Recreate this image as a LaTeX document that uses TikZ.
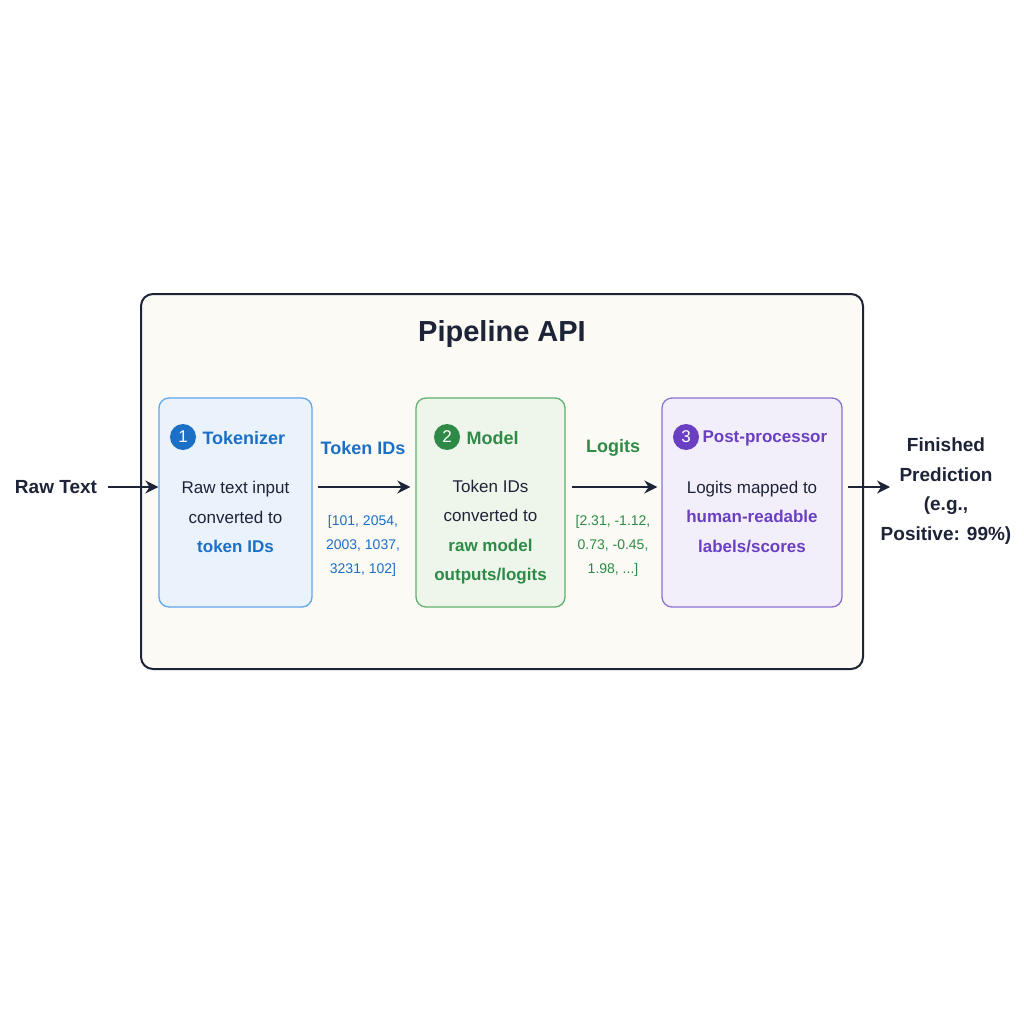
\documentclass[tikz,border=0pt]{standalone}
\usepackage{fontspec}
\setmainfont{Liberation Sans}
\usetikzlibrary{arrows.meta}
\definecolor{navy}{HTML}{1E2438}
\definecolor{bluet}{HTML}{1B6FC7}
\definecolor{greent}{HTML}{2E8A46}
\definecolor{purt}{HTML}{6A3FC2}
\begin{document}
\begin{tikzpicture}[x=1pt,y=-1pt,
  box/.style={draw,line width=1.3pt,rounded corners=10pt},
  num/.style={circle,fill=#1,text=white,inner sep=0pt,minimum size=26pt,font=\fontsize{17}{17}\selectfont},
  ttl/.style={font=\fontsize{18}{18}\selectfont\bfseries,anchor=west},
  body/.style={align=center,font=\fontsize{17}{29.5}\selectfont,text=navy},
  lst/.style={align=center,font=\fontsize{14}{24}\selectfont},
  arr/.style={-{Stealth[length=13pt,width=13pt]},line width=2.3pt,draw=navy},
  side/.style={align=center,font=\fontsize{19}{29.5}\selectfont\bfseries,text=navy}]
\useasboundingbox (0,0) rectangle (1024,1024);
\fill[white] (0,0) rectangle (1024,1024);
\draw[box,draw=navy,fill={rgb,255:red,251;green,250;blue,244},line width=2pt,rounded corners=12pt] (141,294) rectangle (863,669);
\node[font=\fontsize{29}{29}\selectfont\bfseries,text=navy] (title) at (502,334) {Pipeline API};
\node[box,draw={rgb,255:red,96;green,166;blue,234},fill={rgb,255:red,234;green,243;blue,252},minimum width=153pt,minimum height=209pt] (b1) at (235.5,502.5) {};
\node[box,draw={rgb,255:red,98;green,176;blue,110},fill={rgb,255:red,238;green,246;blue,236},minimum width=149pt,minimum height=209pt] (b2) at (490.5,502.5) {};
\node[box,draw={rgb,255:red,140;green,114;blue,210},fill={rgb,255:red,242;green,239;blue,250},minimum width=180pt,minimum height=209pt] (b3) at (752,502.5) {};
\node[num=bluet] (n1) at (183,437) {1};
\node[ttl,text=bluet] (t1) at (199,438) {Tokenizer};
\node[num=greent] (n2) at (447,437) {2};
\node[ttl,text=greent] (t2) at (463,438) {Model};
\node[num=purt] (n3) at (686,437) {3};
\node[ttl,text=purt,font=\fontsize{17}{17}\selectfont\bfseries] (t3) at (699,438) {Post-processor};
\node[body] (d1) at (235.5,517) {Raw text input\\converted to\\\textcolor{bluet}{\bfseries token IDs}};
\node[body] (d2) at (490.5,532) {Token IDs\\converted to\\\textcolor{greent}{\bfseries raw model}\\\textcolor{greent}{\bfseries outputs/logits}};
\node[body] (d3) at (752,517) {Logits mapped to\\\textcolor{purt}{\bfseries human-readable}\\\textcolor{purt}{\bfseries labels/scores}};
\node[side] (raw) at (56,487) {Raw Text};
\node[side] (fin) at (946,491) {Finished\\Prediction\\(e.g.,\\Positive: 99\%)};
\coordinate (a0) at (108,487);
\coordinate (c0) at (318,487);
\coordinate (e0) at (572,487);
\coordinate (f0) at (848,487);
\coordinate (f1) at (890,487);
\draw[arr] (a0) -- (b1.west |- a0);
\draw[arr] (c0) -- ([xshift=-5pt]b2.west |- c0);
\draw[arr] (e0) -- ([xshift=-4pt]b3.west |- e0);
\draw[arr] (f0) -- (f1);
\node[font=\fontsize{18}{18}\selectfont\bfseries,text=bluet] (l1) at (363,448) {Token IDs};
\node[lst,text=bluet] (v1) at (363,546) {[101, 2054,\\2003, 1037,\\3231, 102]};
\node[font=\fontsize{18}{18}\selectfont\bfseries,text=greent] (l2) at (613,448) {Logits};
\node[lst,text=greent] (v2) at (613,546) {[2.31, -1.12,\\0.73, -0.45,\\1.98, ...]};
\end{tikzpicture}
\end{document}
